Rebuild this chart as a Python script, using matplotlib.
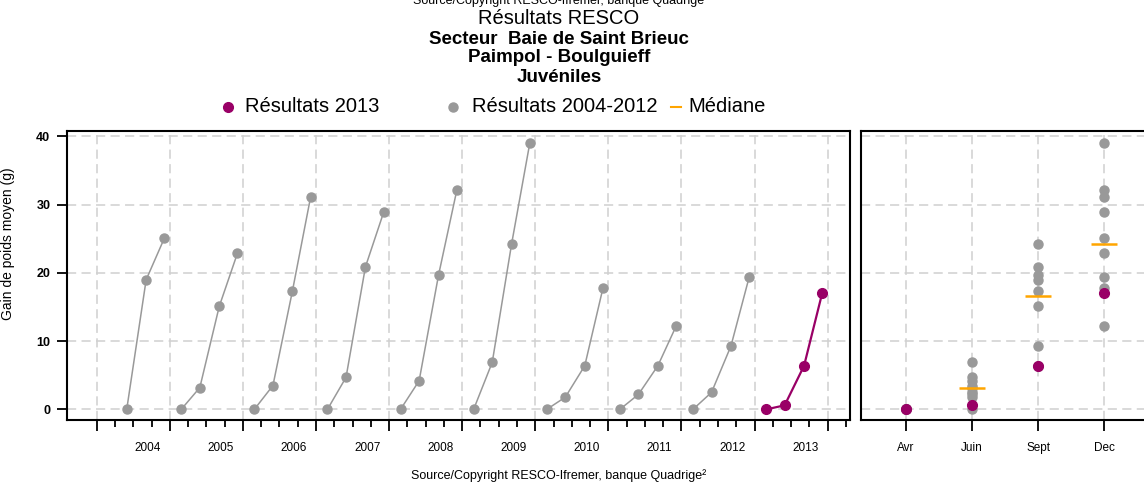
import numpy as np
import matplotlib
matplotlib.use("Agg")
import matplotlib.pyplot as plt
from matplotlib.lines import Line2D
import matplotlib.transforms as mtransforms

plt.rcParams['font.family'] = ['Liberation Sans', 'DejaVu Sans']

# --- Données ---------------------------------------------------------------
annees = [2004, 2005, 2006, 2007, 2008, 2009, 2010, 2011, 2012, 2013]
campagnes = ["Avr", "Juin", "Sept", "Dec"]
# jour de l'année de chaque campagne
jour_campagne = [57, 150, 247, 338]

# gain de poids moyen (g) par campagne et par année (None = pas de mesure)
gain_avr = [None, 0.0, 0.0, 0.0, 0.0, 0.0, 0.0, 0.0, 0.0, 0.0]
gain_juin = [0.0, 3.2, 3.5, 4.7, 4.2, 6.9, 1.8, 2.2, 2.5, 0.6]
gain_sept = [19.0, 15.1, 17.3, 20.9, 19.7, 24.3, 6.4, 6.4, 9.3, 6.4]
gain_dec = [25.1, 22.9, 31.1, 28.9, 32.1, 39.1, 17.8, 12.2, 19.4, 17.1]

# médiane par campagne (pas de médiane en avril)
mediane = [None, 3.2, 16.6, 24.2]

annee_courante = 2013
y_ticks = [0, 10, 20, 30, 40]

# --- Styles ----------------------------------------------------------------
POURPRE = "#990066"
GRIS = "#999999"
ORANGE = "#FFA500"
GRILLE = "#D0D0D0"

W, H = 1144, 487
fig = plt.figure(figsize=(W / 100, H / 100), dpi=100)

ax1 = fig.add_axes([67 / W, 67 / H, 783 / W, 289 / H])
ax2 = fig.add_axes([861 / W, 67 / H, 288 / W, 289 / H])

gains = [gain_avr, gain_juin, gain_sept, gain_dec]


def serie(i):
    xs, ys = [], []
    for j, g in enumerate(gains):
        v = g[i]
        if v is not None:
            xs.append(annees[i] + jour_campagne[j] / 365.0)
            ys.append(v)
    return xs, ys


def style_axe(ax):
    for s in ax.spines.values():
        s.set_linewidth(1.5)
        s.set_color("black")
    ax.set_ylim(-1.55, 40.8)
    ax.set_yticks(y_ticks)
    ax.grid(True, which="major", color=GRILLE, linestyle=(0, (6, 3.5)), linewidth=1.1)
    ax.set_axisbelow(True)


# --- Panneau chronologique -------------------------------------------------
style_axe(ax1)
for i, an in enumerate(annees):
    xs, ys = serie(i)
    if an == annee_courante:
        ax1.plot(xs, ys, color=POURPRE, lw=1.6, marker="o", ms=7,
                 mec=POURPRE, mfc=POURPRE, zorder=4)
    else:
        ax1.plot(xs, ys, color=GRIS, lw=1.1, marker="o", ms=6.5,
                 mec=GRIS, mfc=GRIS, zorder=3)

ax1.set_xlim(2003.594, 2014.305)
debuts = list(range(annees[0], annees[-1] + 2))
ax1.set_xticks(debuts)
ax1.set_xticklabels([""] * len(debuts))
ax1.set_xticks([a + q for a in debuts[:-1] for q in (0.25, 0.5, 0.75)] + [debuts[-1] + 0.25],
               minor=True)
ax1.tick_params(axis="x", which="major", direction="out", length=8, width=1.3)
ax1.tick_params(axis="x", which="minor", direction="out", length=5, width=1.3)
ax1.tick_params(axis="y", direction="out", length=7, width=1.3, pad=5,
                labelsize=9)
for lab in ax1.get_yticklabels():
    lab.set_fontweight("bold")

trans = mtransforms.blended_transform_factory(ax1.transData, ax1.transAxes)
for an in annees:
    ax1.text(an + 0.7, -0.097, str(an), transform=trans, ha="center",
             va="center", fontsize=8.5)

ax1.set_ylabel("Gain de poids moyen (g)", fontsize=10)
ax1.yaxis.set_label_coords(15 / W, 0.5, transform=fig.transFigure)

# --- Panneau par campagne --------------------------------------------------
style_axe(ax2)
ax2.set_xlim(-0.682, 3.68)
ax2.set_xticks(range(len(campagnes)))
ax2.set_xticklabels([""] * len(campagnes))
ax2.tick_params(axis="x", direction="out", length=8, width=1.3)
ax2.tick_params(axis="y", length=0, labelleft=False)
trans2 = mtransforms.blended_transform_factory(ax2.transData, ax2.transAxes)
for j, nom in enumerate(campagnes):
    ax2.text(j, -0.097, nom, transform=trans2, ha="center", va="center",
             fontsize=8.5)

for j, g in enumerate(gains):
    for i, an in enumerate(annees):
        v = g[i]
        if v is None:
            continue
        if an == annee_courante:
            ax2.plot(j, v, "o", color=POURPRE, ms=7, zorder=5)
        else:
            ax2.plot(j, v, "o", color=GRIS, ms=6.5, zorder=3)
    if mediane[j] is not None:
        ax2.plot([j - 0.195, j + 0.195], [mediane[j]] * 2, color=ORANGE,
                 lw=1.8, zorder=4, solid_capstyle="butt")

# --- Titres ----------------------------------------------------------------
cx = 559 / W
fig.text(cx, 1 - 4 / H, "Source/Copyright RESCO-Ifremer, banque Quadrige",
         ha="center", va="baseline", fontsize=9)
fig.text(cx, 1 - 18 / H, "Résultats RESCO", ha="center", va="center", fontsize=14.5)
fig.text(cx, 1 - 39 / H, "Secteur  Baie de Saint Brieuc", ha="center",
         va="center", fontsize=13.5, fontweight="bold")
fig.text(cx, 1 - 58 / H, "Paimpol - Boulguieff", ha="center", va="center",
         fontsize=13.5, fontweight="bold")
fig.text(cx, 1 - 78 / H, "Juvéniles", ha="center", va="center",
         fontsize=13.5, fontweight="bold")

# --- Légende ---------------------------------------------------------------
yl = 1 - 107 / H
fig.add_artist(Line2D([228 / W], [yl], marker="o", ms=7, color=POURPRE,
                      transform=fig.transFigure))
fig.text(245 / W, yl, f"Résultats {annee_courante}", ha="left", va="center",
         fontsize=14.5)
fig.add_artist(Line2D([453 / W], [yl], marker="o", ms=6.5, color=GRIS,
                      transform=fig.transFigure))
fig.text(472 / W, yl, f"Résultats {annees[0]}-{annees[-2]}", ha="left",
         va="center", fontsize=14.5)
fig.add_artist(Line2D([671 / W, 681 / W], [yl, yl], color=ORANGE, lw=1.5,
                      transform=fig.transFigure))
fig.text(688 / W, yl, "Médiane", ha="left", va="center", fontsize=14.5)

fig.text(cx, 1 - 476 / H, "Source/Copyright RESCO-Ifremer, banque Quadrige²",
         ha="center", va="center", fontsize=9)

fig.savefig("out.png", dpi=100)
